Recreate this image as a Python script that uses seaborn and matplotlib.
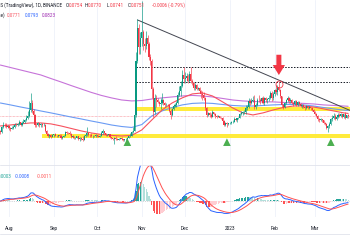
import numpy as np
import pandas as pd
import matplotlib
matplotlib.use("Agg")
import matplotlib.pyplot as plt
import seaborn as sns

# SECTION - DATA (daily DOGE/USDT candles, 2022-07-26 .. 2023-03-24)
first_open = 0.0645
closes = [
    # Jul
    0.0635, 0.0672, 0.0690, 0.0688, 0.0676, 0.0679,
    # Aug
    0.0668, 0.0660, 0.0666, 0.0671, 0.0690, 0.0686, 0.0695, 0.0706, 0.0688, 0.0704,
    0.0712, 0.0721, 0.0738, 0.0752, 0.0795, 0.0850, 0.0790, 0.0762, 0.0690, 0.0686,
    0.0699, 0.0688, 0.0693, 0.0684, 0.0690, 0.0645, 0.0620, 0.0606, 0.0616, 0.0601, 0.0612,
    # Sep
    0.0618, 0.0609, 0.0604, 0.0612, 0.0607, 0.0590, 0.0603, 0.0610, 0.0635, 0.0630,
    0.0628, 0.0624, 0.0598, 0.0605, 0.0590, 0.0596, 0.0604, 0.0588, 0.0592, 0.0586,
    0.0580, 0.0608, 0.0612, 0.0628, 0.0615, 0.0612, 0.0608, 0.0610, 0.0606, 0.0612,
    # Oct
    0.0608, 0.0602, 0.0610, 0.0632, 0.0640, 0.0630, 0.0612, 0.0615, 0.0618, 0.0600,
    0.0590, 0.0588, 0.0592, 0.0586, 0.0580, 0.0588, 0.0590, 0.0583, 0.0575, 0.0582,
    0.0586, 0.0594, 0.0604, 0.0610, 0.0636, 0.0646, 0.0760, 0.1155, 0.1395, 0.1255, 0.1320,
    # Nov
    0.1360, 0.1275, 0.1265, 0.1320, 0.1275, 0.1185, 0.1150, 0.0950, 0.0780, 0.0885,
    0.0870, 0.0855, 0.0838, 0.0848, 0.0870, 0.0845, 0.0830, 0.0835, 0.0832, 0.0790,
    0.0762, 0.0800, 0.0822, 0.0830, 0.0845, 0.0905, 0.0935, 0.0970, 0.1050, 0.1020,
    # Dec
    0.1030, 0.1040, 0.1005, 0.1055, 0.1010, 0.0995, 0.0955, 0.0975, 0.0950, 0.0958,
    0.0935, 0.0910, 0.0905, 0.0885, 0.0810, 0.0760, 0.0775, 0.0760, 0.0748, 0.0780,
    0.0770, 0.0752, 0.0745, 0.0752, 0.0740, 0.0735, 0.0718, 0.0690, 0.0705, 0.0695, 0.0698,
    # Jan
    0.0702, 0.0708, 0.0712, 0.0732, 0.0722, 0.0735, 0.0738, 0.0765, 0.0772, 0.0780,
    0.0782, 0.0810, 0.0818, 0.0865, 0.0850, 0.0862, 0.0872, 0.0815, 0.0832, 0.0872,
    0.0870, 0.0862, 0.0880, 0.0850, 0.0880, 0.0868, 0.0875, 0.0885, 0.0920, 0.0880, 0.0915,
    # Feb
    0.0940, 0.0925, 0.0962, 0.0945, 0.0895, 0.0832, 0.0818, 0.0848, 0.0868, 0.0882,
    0.0858, 0.0870, 0.0845, 0.0838, 0.0860, 0.0835, 0.0852, 0.0840, 0.0825, 0.0830,
    0.0818, 0.0810, 0.0822, 0.0808, 0.0815, 0.0810, 0.0798, 0.0780,
    # Mar
    0.0770, 0.0755, 0.0730, 0.0725, 0.0728, 0.0720, 0.0705, 0.0695, 0.0668, 0.0680,
    0.0695, 0.0728, 0.0740, 0.0755, 0.0730, 0.0745, 0.0760, 0.0750, 0.0765, 0.0742,
    0.0765, 0.0740, 0.0757, 0.0751,
]
highs = [
    0.0652, 0.0682, 0.0712, 0.0702, 0.0698, 0.0690,
    0.0685, 0.0676, 0.0680, 0.0684, 0.0701, 0.0698, 0.0704, 0.0721, 0.0712, 0.0713,
    0.0731, 0.0730, 0.0762, 0.0790, 0.0860, 0.0921, 0.0868, 0.0800, 0.0768, 0.0702,
    0.0708, 0.0702, 0.0700, 0.0700, 0.0698, 0.0695, 0.0650, 0.0628, 0.0624, 0.0625, 0.0620,
    0.0625, 0.0626, 0.0612, 0.0616, 0.0618, 0.0622, 0.0608, 0.0615, 0.0642, 0.0644,
    0.0638, 0.0640, 0.0630, 0.0612, 0.0610, 0.0600, 0.0608, 0.0606, 0.0598, 0.0600,
    0.0605, 0.0615, 0.0625, 0.0672, 0.0632, 0.0620, 0.0628, 0.0616, 0.0616, 0.0618,
    0.0615, 0.0612, 0.0613, 0.0640, 0.0660, 0.0645, 0.0632, 0.0620, 0.0622, 0.0620,
    0.0602, 0.0595, 0.0598, 0.0608, 0.0590, 0.0592, 0.0594, 0.0598, 0.0588, 0.0588,
    0.0590, 0.0598, 0.0608, 0.0626, 0.0645, 0.0672, 0.0785, 0.1220, 0.1455, 0.1420, 0.1360,
    0.1590, 0.1380, 0.1320, 0.1372, 0.1340, 0.1290, 0.1200, 0.1165, 0.0965, 0.0910,
    0.0905, 0.0882, 0.0865, 0.0880, 0.0918, 0.0875, 0.0852, 0.0850, 0.0842, 0.0840,
    0.0800, 0.0810, 0.0840, 0.0848, 0.0862, 0.0930, 0.0972, 0.1010, 0.1085, 0.1108,
    0.1075, 0.1065, 0.1060, 0.1080, 0.1110, 0.1025, 0.1002, 0.0990, 0.0985, 0.0965,
    0.0962, 0.0938, 0.0935, 0.0925, 0.0892, 0.0820, 0.0782, 0.0780, 0.0772, 0.0795,
    0.0785, 0.0775, 0.0760, 0.0758, 0.0755, 0.0742, 0.0742, 0.0722, 0.0712, 0.0710, 0.0705,
    0.0708, 0.0715, 0.0722, 0.0748, 0.0738, 0.0740, 0.0745, 0.0772, 0.0790, 0.0788,
    0.0795, 0.0830, 0.0835, 0.0885, 0.0875, 0.0880, 0.0895, 0.0905, 0.0845, 0.0880,
    0.0902, 0.0882, 0.0890, 0.0895, 0.0892, 0.0892, 0.0885, 0.0905, 0.0935, 0.0935, 0.0925,
    0.0952, 0.0975, 0.0975, 0.1002, 0.0950, 0.0900, 0.0840, 0.0855, 0.0878, 0.0895,
    0.0890, 0.0880, 0.0875, 0.0852, 0.0868, 0.0872, 0.0860, 0.0858, 0.0848, 0.0840,
    0.0838, 0.0825, 0.0830, 0.0828, 0.0822, 0.0820, 0.0815, 0.0805,
    0.0790, 0.0775, 0.0760, 0.0738, 0.0735, 0.0732, 0.0725, 0.0712, 0.0702, 0.0688,
    0.0710, 0.0735, 0.0758, 0.0775, 0.0765, 0.0752, 0.0772, 0.0775, 0.0772, 0.0768,
    0.0770, 0.0778, 0.0762, 0.0770,
]
lows = [
    0.0618, 0.0628, 0.0664, 0.0672, 0.0668, 0.0668,
    0.0652, 0.0646, 0.0655, 0.0659, 0.0667, 0.0680, 0.0681, 0.0690, 0.0679, 0.0680,
    0.0700, 0.0703, 0.0716, 0.0730, 0.0745, 0.0780, 0.0772, 0.0748, 0.0675, 0.0670,
    0.0678, 0.0669, 0.0676, 0.0676, 0.0680, 0.0635, 0.0612, 0.0598, 0.0596, 0.0592, 0.0598,
    0.0602, 0.0604, 0.0598, 0.0601, 0.0600, 0.0585, 0.0584, 0.0598, 0.0606, 0.0622,
    0.0620, 0.0615, 0.0590, 0.0594, 0.0584, 0.0586, 0.0592, 0.0580, 0.0570, 0.0580,
    0.0572, 0.0578, 0.0600, 0.0610, 0.0605, 0.0603, 0.0600, 0.0596, 0.0600, 0.0600,
    0.0603, 0.0598, 0.0598, 0.0608, 0.0620, 0.0625, 0.0606, 0.0608, 0.0610, 0.0596,
    0.0582, 0.0580, 0.0548, 0.0580, 0.0575, 0.0578, 0.0582, 0.0578, 0.0570, 0.0570,
    0.0568, 0.0584, 0.0590, 0.0600, 0.0605, 0.0632, 0.0642, 0.0748, 0.1135, 0.1205, 0.1200,
    0.1265, 0.1230, 0.1215, 0.1240, 0.1250, 0.1160, 0.1120, 0.0880, 0.0745, 0.0770,
    0.0815, 0.0845, 0.0822, 0.0800, 0.0840, 0.0832, 0.0815, 0.0822, 0.0820, 0.0780,
    0.0728, 0.0752, 0.0795, 0.0815, 0.0820, 0.0840, 0.0895, 0.0900, 0.0965, 0.0995,
    0.0995, 0.1010, 0.0990, 0.1000, 0.0995, 0.0975, 0.0940, 0.0945, 0.0938, 0.0942,
    0.0925, 0.0880, 0.0870, 0.0870, 0.0795, 0.0742, 0.0752, 0.0748, 0.0738, 0.0742,
    0.0760, 0.0738, 0.0740, 0.0742, 0.0735, 0.0728, 0.0712, 0.0682, 0.0680, 0.0675, 0.0690,
    0.0692, 0.0695, 0.0700, 0.0708, 0.0715, 0.0712, 0.0730, 0.0735, 0.0758, 0.0762,
    0.0770, 0.0770, 0.0795, 0.0812, 0.0832, 0.0838, 0.0855, 0.0800, 0.0805, 0.0825,
    0.0855, 0.0842, 0.0848, 0.0842, 0.0836, 0.0855, 0.0848, 0.0862, 0.0878, 0.0862, 0.0872,
    0.0895, 0.0915, 0.0905, 0.0935, 0.0880, 0.0820, 0.0805, 0.0810, 0.0840, 0.0855,
    0.0850, 0.0848, 0.0838, 0.0825, 0.0830, 0.0828, 0.0822, 0.0832, 0.0815, 0.0812,
    0.0808, 0.0798, 0.0805, 0.0800, 0.0800, 0.0798, 0.0790, 0.0772,
    0.0760, 0.0745, 0.0715, 0.0712, 0.0718, 0.0712, 0.0695, 0.0685, 0.0660, 0.0636,
    0.0665, 0.0688, 0.0715, 0.0730, 0.0720, 0.0722, 0.0738, 0.0745, 0.0742, 0.0735,
    0.0738, 0.0732, 0.0735, 0.0741,
]

# Moving averages, one value per week
ma50 = [0.0680, 0.0687, 0.0695, 0.0702, 0.0702, 0.0695, 0.0680, 0.0662, 0.0644, 0.0629,
        0.0618, 0.0611, 0.0607, 0.0611, 0.0651, 0.0724, 0.0796, 0.0847, 0.0884, 0.0913,
        0.0920, 0.0898, 0.0855, 0.0811, 0.0775, 0.0760, 0.0775, 0.0796, 0.0814, 0.0825,
        0.0825, 0.0818, 0.0804, 0.0789, 0.0775, 0.0771]
ma100 = [0.0847, 0.0833, 0.0818, 0.0804, 0.0789, 0.0775, 0.0760, 0.0745, 0.0731, 0.0716,
         0.0702, 0.0687, 0.0676, 0.0669, 0.0690, 0.0753, 0.0789, 0.0814, 0.0833, 0.0844,
         0.0847, 0.0844, 0.0836, 0.0829, 0.0825, 0.0825, 0.0829, 0.0833, 0.0836, 0.0836,
         0.0833, 0.0825, 0.0814, 0.0804, 0.0795, 0.0793]
ma200 = [0.1123, 0.1105, 0.1087, 0.1069, 0.1051, 0.1025, 0.1000, 0.0974, 0.0949, 0.0924,
         0.0902, 0.0884, 0.0869, 0.0862, 0.0865, 0.0876, 0.0884, 0.0891, 0.0898, 0.0902,
         0.0898, 0.0891, 0.0880, 0.0869, 0.0862, 0.0858, 0.0855, 0.0855, 0.0851, 0.0847,
         0.0844, 0.0840, 0.0833, 0.0829, 0.0825, 0.0823]

# Drawn levels
support_band = (0.0596, 0.0622)
resist_band = (0.0789, 0.0818)
dotted_levels = [0.1109, 0.1003]
trend_start = ("2022-10-29", 0.1451)
trend_end = ("2023-03-26", 0.0790)
signal_days = ["2022-10-22", "2022-12-30", "2023-03-12"]
signal_price = 0.0562
top_day, top_price = "2023-02-04", 0.0986

month_starts = ["2022-08-01", "2022-09-01", "2022-10-01", "2022-11-01",
                "2022-12-01", "2023-01-01", "2023-02-01", "2023-03-01"]
month_labels = ["Aug", "Sep", "Oct", "Nov", "Dec", "2023", "Feb", "Mar"]

# !SECTION

# SECTION - FRAME
dates = pd.date_range("2022-07-26", periods=len(closes), freq="D")
df = pd.DataFrame({"close": closes, "high": highs, "low": lows}, index=dates)
df["open"] = [first_open] + closes[:-1]
up = df["close"] >= df["open"]

ma_dates = list(pd.date_range("2022-07-26", "2023-03-21", freq="7D")) + [dates[-1]]
ma_df = pd.DataFrame({"date": ma_dates, "ma50": ma50, "ma100": ma100, "ma200": ma200})

ema12 = df["close"].ewm(span=12, adjust=False).mean()
ema26 = df["close"].ewm(span=26, adjust=False).mean()
macd = ema12 - ema26
signal = macd.ewm(span=9, adjust=False).mean()
hist = macd - signal
prev = hist.shift(1).fillna(0)
hist_col = np.where(hist >= 0,
                    np.where(hist >= prev, "#26A69A", "#B2DFDB"),
                    np.where(hist < prev, "#FF5252", "#FFCDD2"))
# !SECTION

# SECTION - PLOT
sns.set_theme(style="white")
plt.rcParams["font.family"] = ["Roboto", "DejaVu Sans"]

GREEN, RED = "#089981", "#F23645"
GRID = "#F0F3FA"
W, H = 350, 250

fig = plt.figure(figsize=(3.5, 2.5), dpi=100)
ax = fig.add_axes([0, 1 - 165 / H, 1, 165 / H])
axm = fig.add_axes([0, 1 - 217 / H, 1, 52 / H])

x0, x1 = pd.Timestamp("2022-07-25 18:00"), pd.Timestamp("2023-03-25 07:00")
ticks = pd.to_datetime(month_starts)
for a in (ax, axm):
    a.set_xlim(x0, x1)
    for s in a.spines.values():
        s.set_visible(False)
    for t in ticks:
        a.axvline(t, color=GRID, lw=0.7, zorder=0)
    a.set_yticks([])

ax.set_ylim(0.0396, 0.1596)
ax.set_xticks([])

# horizontal levels
ax.fill_between([pd.Timestamp("2022-08-24"), x1], *support_band, color="#FFEB3B", lw=0, zorder=1)
ax.fill_between([pd.Timestamp("2022-10-27"), x1], *resist_band, color="#FFEB3B", lw=0, zorder=1)
for lvl in dotted_levels:
    ax.plot([pd.Timestamp("2022-10-28"), x1], [lvl, lvl], color="#131722",
            lw=0.7, ls=(0, (1.5, 1.5)), zorder=2)
ax.axhline(closes[-1], color=RED, lw=0.5, ls=(0, (1, 1)), alpha=0.6, zorder=1)

# moving averages
sns.lineplot(data=ma_df, x="date", y="ma200", ax=ax, color="#C673D9", lw=0.8, zorder=3)
sns.lineplot(data=ma_df, x="date", y="ma100", ax=ax, color="#6A9BF4", lw=0.8, zorder=3)
sns.lineplot(data=ma_df, x="date", y="ma50", ax=ax, color="#F7525F", lw=0.8, zorder=3)

# candles
col = np.where(up, GREEN, RED)
ax.vlines(df.index, df["low"], df["high"], colors=col, lw=0.45, zorder=4)
body_lo = np.minimum(df["open"], df["close"])
body_h = np.maximum(np.abs(df["close"] - df["open"]), 0.0002)
ax.bar(df.index, body_h, bottom=body_lo, width=0.75, color=col, lw=0, zorder=4)

# trend line
ax.plot(pd.to_datetime([trend_start[0], trend_end[0]]), [trend_start[1], trend_end[1]],
        color="#434651", lw=0.7, zorder=3)

# markers
sns.scatterplot(x=pd.to_datetime(signal_days), y=[signal_price] * 3, ax=ax, marker="^",
                s=30, color="#4CAF50", edgecolor="none", zorder=5)
ax.plot(pd.Timestamp(top_day), top_price, marker="o", ms=5, mfc="none", mec=RED, mew=0.6, zorder=5)
ax.annotate("", xy=(pd.Timestamp(top_day), 0.1030), xytext=(pd.Timestamp(top_day), 0.1218),
            arrowprops=dict(arrowstyle="simple,head_length=0.9,head_width=1.1,tail_width=0.45",
                            color=RED, mutation_scale=8, lw=0), zorder=6)
ax.set_xlabel("")
ax.set_ylabel("")

# MACD pane
axm.axhline(0, color="#B2B5BE", lw=0.4, ls=(0, (2, 2)), zorder=1)
axm.bar(df.index, hist, width=0.8, color=hist_col, lw=0, zorder=2)
sns.lineplot(x=df.index, y=macd.values, ax=axm, color="#2962FF", lw=0.7, zorder=3)
sns.lineplot(x=df.index, y=signal.values, ax=axm, color="#FF5252", lw=0.7, zorder=3)
axm.set_ylim(-0.0071, 0.0161)
axm.set_xticks(ticks)
axm.set_xticklabels(month_labels)
axm.tick_params(axis="x", length=0, pad=6.5, labelsize=3.4, colors="#131722")
axm.set_xlabel("")
axm.set_ylabel("")

# separators
fig.add_artist(plt.Line2D([0, 1], [1 - 165 / H] * 2, color="#E0E3EB", lw=0.6))
fig.add_artist(plt.Line2D([0, 1], [1 - 234 / H] * 2, color="#E0E3EB", lw=0.6))

# legends
fs = 3.3
def ftext(px, py, s, c, ha="left"):
    fig.text(px / W, 1 - py / H, s, color=c, fontsize=fs, ha=ha, va="center")

ftext(62, 5.5, "Dogecoin / TetherUS (TradingView), 1D, BINANCE", "#131722", ha="right")
for lab, px, val, pv in [("O", 65.5, "0.0754", 68.5), ("H", 85, "0.0770", 88),
                         ("L", 107, "0.0741", 109.5), ("C", 128, "0.0751", 131)]:
    ftext(px, 5.5, lab, "#131722")
    ftext(pv, 5.5, val, RED)
ftext(152, 5.5, "-0.0006 (-0.79%)", RED)
ftext(4.5, 15.5, "MA (50, 100, 200, close)", "#131722", ha="right")
ftext(7, 15.5, "0.0771", "#F7525F")
ftext(25, 15.5, "0.0793", "#2962FF")
ftext(42, 15.5, "0.0823", "#9C27B0")
ftext(12, 176, "0.0003", "#26A69A", ha="right")
ftext(15, 176, "-0.0008", "#2962FF")
ftext(37, 176, "-0.0011", "#FF5252")

fig.savefig("out.png", dpi=100)
# !SECTION
